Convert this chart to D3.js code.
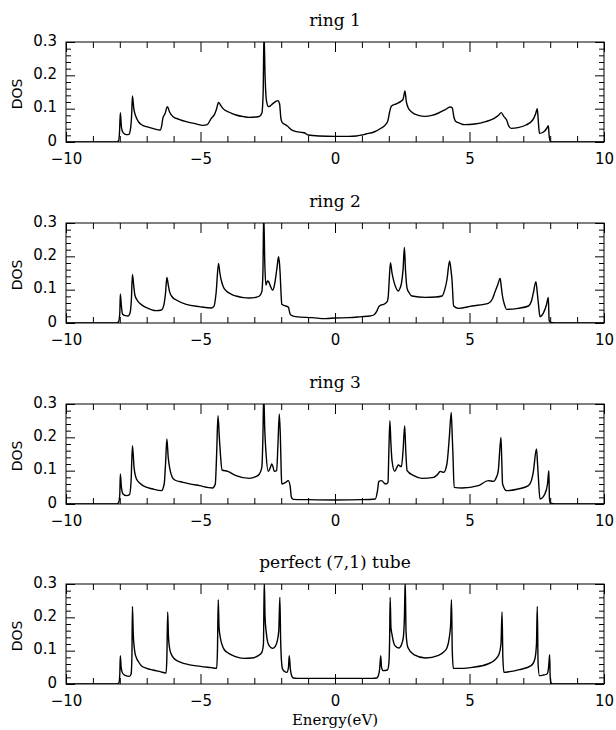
<!DOCTYPE html>
<html>
<head>
<meta charset="utf-8">
<script src="https://cdn.jsdelivr.net/npm/d3@7"></script>
<style>
  html, body { margin: 0; padding: 0; background: #fff; }
  svg { display: block; }
</style>
</head>
<body>
<div id="chart"></div>
<script>
// ---------------- DATA ----------------
const panelTitles = ["ring 1", "ring 2", "ring 3", "perfect (7,1) tube"];
const xLabel = "Energy(eV)";
const yLabel = "DOS";
const xDomain = [-10, 10];
const yDomain = [0, 0.3];
const xMajorTicks = [-10, -5, 0, 5, 10];
const xMinorTicks = [-9, -8, -7, -6, -4, -3, -2, -1, 1, 2, 3, 4, 6, 7, 8, 9];
const yMajorTicks = [0, 0.1, 0.2, 0.3];
const yMinorTicks = [0.02, 0.04, 0.06, 0.08, 0.12, 0.14, 0.16, 0.18, 0.22, 0.24, 0.26, 0.28];

// [energy (eV), DOS]
const ring1 = [
[-10,0],[-8.12,0],[-8.04,0.005],[-8.01,0.03],[-7.98,0.088],[-7.94,0.045],[-7.88,0.028],[-7.76,0.022],[-7.66,0.023],[-7.6,0.04],[-7.56,0.08],[-7.53,0.138],[-7.48,0.1],[-7.41,0.078],[-7.3,0.06],[-7.15,0.05],[-7.01,0.046],[-6.75,0.04],[-6.5,0.036],[-6.44,0.05],[-6.4,0.071],[-6.32,0.085],[-6.23,0.106],[-6.15,0.09],[-6.02,0.076],[-5.8,0.068],[-5.53,0.061],[-5.2,0.055],[-4.91,0.05],[-4.75,0.052],[-4.6,0.071],[-4.48,0.083],[-4.4,0.1],[-4.33,0.119],[-4.25,0.11],[-4.17,0.101],[-3.95,0.09],[-3.68,0.081],[-3.4,0.076],[-3.19,0.074],[-2.95,0.075],[-2.81,0.077],[-2.72,0.086],[-2.67,0.15],[-2.64,0.33],[-2.6,0.2],[-2.55,0.125],[-2.47,0.106],[-2.3,0.116],[-2.2,0.122],[-2.12,0.124],[-2.06,0.114],[-2.01,0.07],[-1.96,0.058],[-1.85,0.052],[-1.77,0.048],[-1.64,0.038],[-1.43,0.031],[-1.25,0.029],[-1.12,0.027],[-1.0,0.021],[-0.6,0.018],[0,0.017],[0.5,0.017],[0.8,0.018],[1.0,0.021],[1.15,0.024],[1.45,0.03],[1.72,0.042],[1.88,0.052],[1.97,0.065],[2.03,0.09],[2.1,0.108],[2.3,0.115],[2.45,0.122],[2.53,0.128],[2.6,0.153],[2.65,0.122],[2.72,0.103],[2.85,0.09],[3.1,0.08],[3.35,0.077],[3.6,0.08],[3.85,0.087],[4.1,0.097],[4.28,0.105],[4.36,0.102],[4.42,0.075],[4.48,0.062],[4.65,0.056],[4.8,0.052],[5.2,0.054],[5.6,0.061],[5.9,0.07],[6.08,0.08],[6.18,0.088],[6.28,0.076],[6.38,0.066],[6.46,0.048],[6.55,0.041],[6.8,0.043],[7.1,0.051],[7.35,0.066],[7.46,0.085],[7.52,0.1],[7.56,0.06],[7.6,0.026],[7.75,0.03],[7.88,0.042],[7.93,0.049],[7.96,0.02],[8.0,0.003],[8.1,0],[10,0]
];

const ring2 = [
[-10,0],[-8.12,0],[-8.04,0.005],[-8.0,0.03],[-7.98,0.087],[-7.94,0.05],[-7.9,0.027],[-7.8,0.022],[-7.69,0.021],[-7.62,0.03],[-7.57,0.07],[-7.53,0.146],[-7.48,0.11],[-7.44,0.084],[-7.35,0.068],[-7.26,0.059],[-7.01,0.046],[-6.64,0.037],[-6.45,0.039],[-6.36,0.055],[-6.3,0.09],[-6.25,0.137],[-6.2,0.115],[-6.15,0.094],[-6.05,0.078],[-5.9,0.069],[-5.53,0.056],[-5.04,0.049],[-4.6,0.045],[-4.5,0.05],[-4.42,0.09],[-4.33,0.179],[-4.28,0.15],[-4.23,0.129],[-4.15,0.108],[-4.05,0.097],[-3.85,0.086],[-3.68,0.081],[-3.4,0.076],[-3.19,0.075],[-2.95,0.077],[-2.81,0.081],[-2.72,0.094],[-2.68,0.15],[-2.65,0.33],[-2.61,0.18],[-2.57,0.114],[-2.51,0.126],[-2.46,0.123],[-2.42,0.115],[-2.32,0.099],[-2.26,0.11],[-2.22,0.129],[-2.15,0.17],[-2.1,0.199],[-2.06,0.175],[-2.04,0.149],[-2.0,0.08],[-1.98,0.056],[-1.9,0.053],[-1.83,0.051],[-1.73,0.047],[-1.68,0.03],[-1.64,0.024],[-1.46,0.019],[-0.84,0.016],[-0.35,0.013],[0,0.015],[0.5,0.016],[0.99,0.019],[1.3,0.021],[1.44,0.024],[1.55,0.035],[1.63,0.049],[1.72,0.054],[1.81,0.056],[1.94,0.064],[1.98,0.08],[2.01,0.12],[2.06,0.181],[2.12,0.15],[2.19,0.124],[2.27,0.105],[2.35,0.096],[2.42,0.105],[2.47,0.119],[2.53,0.16],[2.58,0.227],[2.62,0.16],[2.68,0.104],[2.76,0.09],[2.86,0.081],[3.36,0.077],[3.75,0.078],[3.98,0.081],[4.08,0.1],[4.16,0.129],[4.26,0.186],[4.31,0.16],[4.35,0.129],[4.41,0.051],[4.59,0.044],[5.09,0.051],[5.7,0.059],[5.85,0.072],[5.95,0.094],[6.05,0.115],[6.14,0.134],[6.18,0.11],[6.22,0.084],[6.3,0.055],[6.38,0.041],[6.81,0.044],[7.19,0.051],[7.3,0.065],[7.37,0.089],[7.47,0.124],[7.52,0.09],[7.56,0.059],[7.62,0.019],[7.74,0.029],[7.86,0.054],[7.93,0.077],[7.96,0.009],[8.01,0.002],[8.3,0],[10,0]
];

const ring3 = [
[-10,0],[-8.12,0],[-8.04,0.005],[-8.0,0.03],[-7.98,0.09],[-7.94,0.05],[-7.88,0.03],[-7.75,0.025],[-7.64,0.028],[-7.58,0.07],[-7.53,0.175],[-7.47,0.11],[-7.38,0.075],[-7.25,0.062],[-7.14,0.055],[-6.77,0.045],[-6.45,0.04],[-6.35,0.06],[-6.3,0.12],[-6.25,0.195],[-6.2,0.14],[-6.15,0.11],[-6.05,0.08],[-5.96,0.072],[-5.65,0.065],[-5.04,0.055],[-4.55,0.048],[-4.45,0.06],[-4.4,0.15],[-4.35,0.265],[-4.3,0.2],[-4.26,0.15],[-4.2,0.102],[-3.99,0.098],[-3.68,0.085],[-3.19,0.077],[-2.95,0.082],[-2.81,0.09],[-2.72,0.11],[-2.68,0.2],[-2.65,0.33],[-2.61,0.22],[-2.57,0.16],[-2.48,0.098],[-2.4,0.11],[-2.35,0.12],[-2.3,0.11],[-2.26,0.098],[-2.17,0.1],[-2.12,0.18],[-2.07,0.27],[-2.03,0.2],[-2.0,0.1],[-1.98,0.06],[-1.9,0.062],[-1.83,0.065],[-1.74,0.07],[-1.67,0.055],[-1.62,0.02],[-1.55,0.014],[-1.0,0.013],[0,0.012],[1.0,0.013],[1.5,0.015],[1.58,0.04],[1.63,0.068],[1.73,0.07],[1.88,0.06],[1.97,0.065],[2.0,0.15],[2.04,0.25],[2.08,0.18],[2.12,0.13],[2.22,0.098],[2.3,0.11],[2.35,0.117],[2.47,0.112],[2.53,0.16],[2.59,0.235],[2.63,0.16],[2.68,0.1],[2.93,0.085],[3.23,0.077],[3.67,0.08],[3.85,0.092],[3.91,0.098],[4.04,0.095],[4.16,0.12],[4.25,0.2],[4.32,0.275],[4.36,0.2],[4.38,0.16],[4.43,0.05],[4.72,0.048],[5.33,0.055],[5.7,0.07],[5.89,0.068],[6.0,0.08],[6.07,0.1],[6.17,0.2],[6.2,0.13],[6.23,0.06],[6.38,0.04],[6.81,0.045],[7.19,0.055],[7.3,0.07],[7.37,0.095],[7.49,0.165],[7.53,0.12],[7.56,0.08],[7.62,0.015],[7.8,0.03],[7.9,0.06],[7.95,0.1],[7.97,0.02],[8.0,0.003],[8.2,0],[10,0]
];

const perfect = [
[-10,0],[-8.1,0],[-8.03,0.004],[-8.0,0.03],[-7.98,0.085],[-7.95,0.05],[-7.9,0.033],[-7.8,0.026],[-7.64,0.023],[-7.58,0.03],[-7.55,0.08],[-7.53,0.233],[-7.5,0.15],[-7.47,0.115],[-7.44,0.095],[-7.38,0.078],[-7.3,0.066],[-7.2,0.055],[-7.0,0.047],[-6.77,0.042],[-6.5,0.037],[-6.28,0.033],[-6.25,0.08],[-6.22,0.216],[-6.19,0.14],[-6.15,0.108],[-6.09,0.09],[-6.0,0.078],[-5.8,0.067],[-5.59,0.061],[-5.0,0.053],[-4.6,0.049],[-4.4,0.047],[-4.37,0.1],[-4.34,0.253],[-4.31,0.17],[-4.26,0.138],[-4.2,0.118],[-4.11,0.102],[-3.95,0.092],[-3.7,0.082],[-3.4,0.077],[-3.1,0.078],[-2.85,0.085],[-2.72,0.095],[-2.66,0.12],[-2.63,0.31],[-2.6,0.2],[-2.56,0.158],[-2.5,0.125],[-2.42,0.112],[-2.32,0.107],[-2.22,0.113],[-2.15,0.128],[-2.09,0.16],[-2.05,0.26],[-2.02,0.13],[-1.99,0.07],[-1.95,0.045],[-1.87,0.037],[-1.79,0.035],[-1.73,0.05],[-1.7,0.085],[-1.66,0.045],[-1.61,0.025],[-1.55,0.018],[-1.4,0.017],[0,0.017],[1.4,0.017],[1.55,0.018],[1.61,0.025],[1.66,0.045],[1.7,0.085],[1.73,0.05],[1.79,0.04],[1.95,0.042],[2.0,0.06],[2.03,0.13],[2.05,0.26],[2.08,0.17],[2.12,0.148],[2.22,0.116],[2.37,0.108],[2.47,0.118],[2.54,0.14],[2.58,0.2],[2.61,0.31],[2.64,0.158],[2.68,0.12],[2.72,0.108],[2.93,0.088],[3.36,0.078],[3.85,0.086],[4.05,0.097],[4.16,0.108],[4.25,0.14],[4.3,0.18],[4.33,0.253],[4.36,0.1],[4.4,0.047],[4.7,0.047],[5.1,0.05],[5.68,0.06],[5.95,0.073],[6.1,0.09],[6.17,0.12],[6.21,0.216],[6.24,0.08],[6.28,0.035],[6.5,0.037],[6.85,0.043],[7.29,0.055],[7.43,0.075],[7.49,0.12],[7.52,0.233],[7.55,0.06],[7.6,0.025],[7.75,0.027],[7.88,0.03],[7.94,0.05],[7.98,0.088],[8.0,0.02],[8.03,0.003],[8.1,0],[10,0]
];

const seriesList = [ring1, ring2, ring3, perfect];

// ---------------- LAYOUT ----------------
const W = 616, H = 730;
const plotLeft = 66, plotRight = 604;
const panelTops = [42, 223, 404, 584];
const panelH = 100;
const numFont = "'DejaVu Sans', sans-serif";
const serifFont = "'DejaVu Serif', serif";

const svg = d3.select("#chart").append("svg")
  .attr("width", W).attr("height", H)
  .attr("viewBox", `0 0 ${W} ${H}`);

svg.append("rect").attr("width", W).attr("height", H).attr("fill", "#fff");

const x = d3.scaleLinear().domain(xDomain).range([plotLeft, plotRight]);
const fmtX = d3.format("d");
const fmtY = v => v === 0 ? "0" : d3.format(".1f")(v);

seriesList.forEach((data, i) => {
  const top = panelTops[i];
  const y = d3.scaleLinear().domain(yDomain).range([top + panelH, top]);
  const g = svg.append("g");

  const clipId = "clip" + i;
  svg.append("clipPath").attr("id", clipId)
    .append("rect").attr("x", plotLeft).attr("y", top)
    .attr("width", plotRight - plotLeft).attr("height", panelH);

  // curve
  const line = d3.line().x(d => x(d[0])).y(d => y(d[1])).curve(d3.curveMonotoneX);
  g.append("path").datum(data)
    .attr("clip-path", `url(#${clipId})`)
    .attr("fill", "none").attr("stroke", "#000")
    .attr("stroke-width", 1.4).attr("stroke-linejoin", "round")
    .attr("d", line);

  // axes
  const styleAxis = sel => {
    sel.select(".domain").remove();
    sel.selectAll("line").attr("stroke", "#000").attr("stroke-width", 1);
    sel.selectAll("text").attr("fill", "#000")
      .attr("font-family", numFont).attr("font-size", 15);
  };

  g.append("g").attr("transform", `translate(0,${top + panelH})`)
    .call(d3.axisBottom(x).tickValues(xMajorTicks).tickSize(-10).tickPadding(11).tickFormat(fmtX))
    .call(styleAxis);
  g.append("g").attr("transform", `translate(0,${top + panelH})`)
    .call(d3.axisBottom(x).tickValues(xMinorTicks).tickSize(-6).tickFormat(""))
    .call(styleAxis);
  g.append("g").attr("transform", `translate(0,${top})`)
    .call(d3.axisTop(x).tickValues(xMajorTicks).tickSize(-10).tickFormat(""))
    .call(styleAxis);
  g.append("g").attr("transform", `translate(0,${top})`)
    .call(d3.axisTop(x).tickValues(xMinorTicks).tickSize(-6).tickFormat(""))
    .call(styleAxis);

  g.append("g").attr("transform", `translate(${plotLeft},0)`)
    .call(d3.axisLeft(y).tickValues(yMajorTicks).tickSize(-9).tickPadding(9).tickFormat(fmtY))
    .call(styleAxis)
    .call(sel => sel.selectAll("text").attr("dy", "0.2em"));
  g.append("g").attr("transform", `translate(${plotLeft},0)`)
    .call(d3.axisLeft(y).tickValues(yMinorTicks).tickSize(-5).tickFormat(""))
    .call(styleAxis);
  g.append("g").attr("transform", `translate(${plotRight},0)`)
    .call(d3.axisRight(y).tickValues(yMajorTicks).tickSize(-9).tickFormat(""))
    .call(styleAxis);
  g.append("g").attr("transform", `translate(${plotRight},0)`)
    .call(d3.axisRight(y).tickValues(yMinorTicks).tickSize(-5).tickFormat(""))
    .call(styleAxis);

  // frame
  g.append("rect").attr("x", plotLeft).attr("y", top)
    .attr("width", plotRight - plotLeft).attr("height", panelH)
    .attr("fill", "none").attr("stroke", "#000").attr("stroke-width", 1);

  // title
  g.append("text").attr("x", (plotLeft + plotRight) / 2).attr("y", top - 16)
    .attr("text-anchor", "middle").attr("font-family", serifFont)
    .attr("font-size", 17).attr("fill", "#000").text(panelTitles[i]);

  // y label
  g.append("text")
    .attr("transform", `translate(22,${top + 52}) rotate(-90)`)
    .attr("text-anchor", "middle").attr("font-family", numFont)
    .attr("font-size", 14).attr("fill", "#000").text(yLabel);
});

svg.append("text").attr("x", (plotLeft + plotRight) / 2).attr("y", 725)
  .attr("text-anchor", "middle").attr("font-family", serifFont)
  .attr("font-size", 15).attr("fill", "#000").text(xLabel);
</script>
</body>
</html>
